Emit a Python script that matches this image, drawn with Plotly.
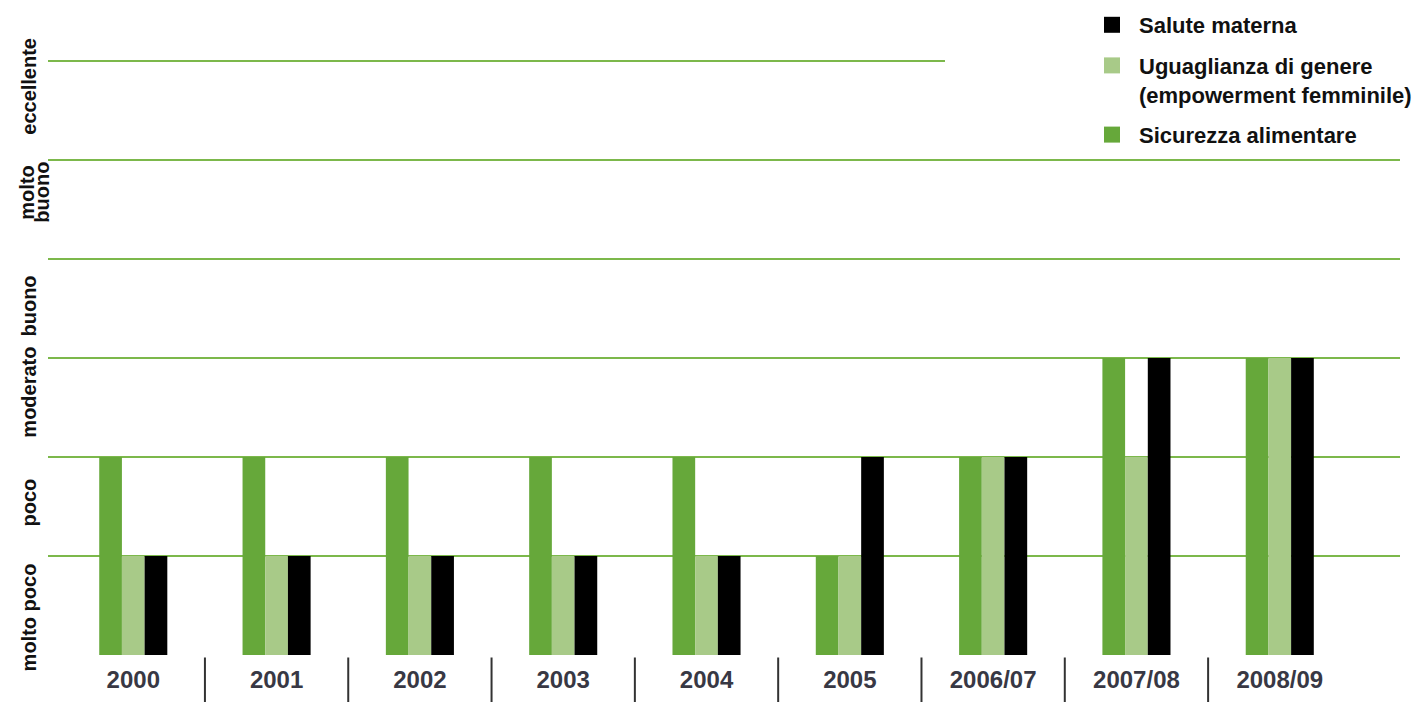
import plotly.graph_objects as go

# Years / periods on the horizontal axis
periods = ["2000", "2001", "2002", "2003", "2004", "2005", "2006/07", "2007/08", "2008/09"]

# Assessment levels (0 = bottom of scale), one value per period
sicurezza_alimentare = [2, 2, 2, 2, 2, 1, 2, 3, 3]
uguaglianza_genere = [1, 1, 1, 1, 1, 1, 2, 2, 3]
salute_materna = [1, 1, 1, 1, 1, 2, 2, 3, 3]

# Scale band labels with their vertical anchor inside each band
level_labels = ["molto poco", "poco", "moderato", "buono", "molto buono", "eccellente"]
level_label_pos = [0.38, 1.54, 2.65, 3.52, 4.67, 5.74]

series_names = ["Sicurezza alimentare", "Uguaglianza di genere<br>(empowerment femminile)", "Salute materna"]
series_colors = ["#66a83a", "#a8ca88", "#000000"]
series_values = [sicurezza_alimentare, uguaglianza_genere, salute_materna]

GRID = "#7cb84b"
FONT = "Liberation Sans, Arial, sans-serif"

fig = go.Figure()

for name, color, vals in zip(series_names, series_colors, series_values):
    fig.add_trace(go.Bar(
        x=periods, y=vals, name=name, marker=dict(color=color, line=dict(width=0)),
        showlegend=False, hoverinfo="x+y+name",
    ))

# Legend entries with large square swatches, listed top-down, one group each for spacing
legend_order = [2, 1, 0]
for k in legend_order:
    fig.add_trace(go.Scatter(
        x=[None], y=[None], mode="markers", name=series_names[k], legendgroup=f"g{k}",
        marker=dict(symbol="square", size=19, color=series_colors[k]),
    ))

shapes = []
# Partial top line at the "eccellente" upper bound
shapes.append(dict(type="line", xref="x", yref="y", x0=-0.7, x1=5.664, y0=6, y1=6,
                   line=dict(color=GRID, width=2), layer="below"))
# Separators between periods below the axis
for i in range(len(periods) - 1):
    shapes.append(dict(type="line", xref="x", yref="paper", x0=i + 0.5, x1=i + 0.5,
                       y0=-0.004, y1=-0.08, line=dict(color="#333333", width=2)))

label_font = dict(family=FONT, size=20, color="#111111", weight="bold")
annotations = []
for text, ypos in zip(level_labels, level_label_pos):
    if text == "molto buono":
        for part, xp in zip(text.split(" "), [27, 42]):
            annotations.append(dict(text=part, x=(xp - 48) / 1352, xref="paper", y=ypos, yref="y",
                                    textangle=-90, showarrow=False, xanchor="center", yanchor="middle",
                                    font=label_font))
    else:
        annotations.append(dict(text=text, x=(29 - 48) / 1352, xref="paper", y=ypos, yref="y",
                                textangle=-90, showarrow=False, xanchor="center", yanchor="middle",
                                font=label_font))

fig.update_layout(
    width=1421, height=702,
    margin=dict(l=48, r=21, t=31, b=47, autoexpand=False),
    paper_bgcolor="white", plot_bgcolor="white",
    barmode="group", bargap=0.525, bargroupgap=0,
    font=dict(family=FONT),
    xaxis=dict(
        type="category", range=[-0.595, 8.839], showgrid=False, zeroline=False, showline=False,
        ticks="", tickfont=dict(family=FONT, size=24, color="#383844", weight="bold"),
        ticklabelstandoff=8,
    ),
    yaxis=dict(
        range=[0, 6.303], tickvals=[1, 2, 3, 4, 5], showticklabels=False, showgrid=True,
        gridcolor=GRID, gridwidth=2, zeroline=False, showline=False,
    ),
    legend=dict(
        xref="container", yref="container",
        x=1085 / 1421, xanchor="left", y=1 - 4 / 702, yanchor="top",
        font=dict(family=FONT, size=22, color="#111111", weight="bold"),
        bgcolor="rgba(0,0,0,0)", traceorder="grouped", tracegroupgap=9,
        valign="top", itemwidth=44,
    ),
    shapes=shapes,
    annotations=annotations,
    showlegend=True,
)

fig.write_html("out.html")
